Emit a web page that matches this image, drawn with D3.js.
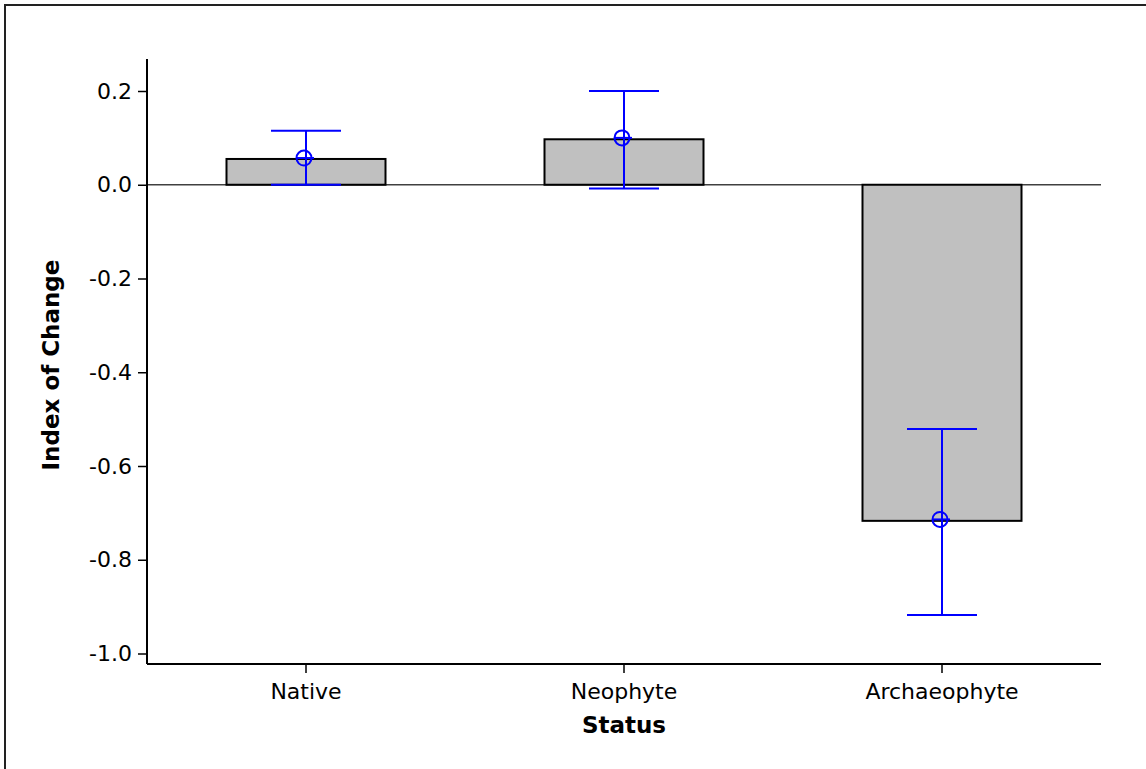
<!DOCTYPE html>
<html><head><meta charset="utf-8">
<script src="https://cdn.jsdelivr.net/npm/d3@7"></script>
<style>body{margin:0;background:#fff}svg{display:block}text{font-family:"DejaVu Sans",sans-serif}</style>
</head><body><svg id="c" width="1146" height="769"></svg>
<script>
const categories = ["Native", "Neophyte", "Archaeophyte"];
const barValues = [0.055, 0.097, -0.717];
const meanValues = [0.057, 0.100, -0.714];
const ciUpper = [0.115, 0.200, -0.521];
const ciLower = [0.000, -0.008, -0.918];
const yTicks = [0.2, 0.0, -0.2, -0.4, -0.6, -0.8, -1.0];

const svg = d3.select("#c");
const L = 147, R = 1101, T = 59, B = 664;
const x = d3.scaleBand().domain(categories).range([L, R]).paddingInner(0.5).paddingOuter(0.25);
const y = d3.scaleLinear().domain([-1.0, 0.2]).range([653.5, 91]);

svg.append("rect").attr("x", 5).attr("y", 5).attr("width", 1200).attr("height", 800)
  .attr("fill", "none").attr("stroke", "#222").attr("stroke-width", 2);

// zero reference line
svg.append("line").attr("x1", L).attr("x2", R).attr("y1", y(0)).attr("y2", y(0))
  .attr("stroke", "#404040").attr("stroke-width", 1.5);

// bars
svg.append("g").selectAll("rect").data(categories).join("rect")
  .attr("x", d => x(d)).attr("width", x.bandwidth())
  .attr("y", (d, i) => y(Math.max(0, barValues[i])))
  .attr("height", (d, i) => Math.abs(y(barValues[i]) - y(0)))
  .attr("fill", "#c0c0c0").attr("stroke", "#000").attr("stroke-width", 2);

// error bars
const cx = d => x(d) + x.bandwidth() / 2;
const eb = svg.append("g").attr("stroke", "#0000ff").attr("stroke-width", 2).attr("fill", "none");
categories.forEach((c, i) => {
  eb.append("line").attr("x1", cx(c)).attr("x2", cx(c)).attr("y1", y(ciUpper[i])).attr("y2", y(ciLower[i]));
  [ciUpper[i], ciLower[i]].forEach(v => {
    eb.append("line").attr("x1", cx(c) - 35).attr("x2", cx(c) + 35).attr("y1", y(v)).attr("y2", y(v));
  });
  eb.append("circle").attr("cx", cx(c) - 2).attr("cy", y(meanValues[i])).attr("r", 7.5);
  eb.append("line").attr("x1", cx(c) - 9.5).attr("x2", cx(c) + 8).attr("y1", y(meanValues[i])).attr("y2", y(meanValues[i]));
});

// axes
const yAxis = svg.append("g").attr("transform", `translate(${L},0)`)
  .call(d3.axisLeft(y).tickValues(yTicks).tickFormat(d3.format(".1f")).tickSize(9).tickSizeOuter(0));
yAxis.select(".domain").remove();
svg.append("line").attr("x1", L).attr("x2", L).attr("y1", T).attr("y2", B).attr("stroke", "#000").attr("stroke-width", 2);
yAxis.selectAll(".tick line").attr("stroke", "#000").attr("stroke-width", 1.5);
yAxis.selectAll(".tick text").attr("x", -15).attr("font-size", 22).attr("fill", "#000")
  .text(d => d3.format(".1f")(d).replace("−", "-"));

const xAxis = svg.append("g").attr("transform", `translate(0,${B})`)
  .call(d3.axisBottom(x).tickSize(9).tickSizeOuter(0));
xAxis.select(".domain").remove();
svg.append("line").attr("x1", L).attr("x2", R).attr("y1", B).attr("y2", B).attr("stroke", "#000").attr("stroke-width", 2);
xAxis.selectAll(".tick line").attr("stroke", "#000").attr("stroke-width", 1.5);
xAxis.selectAll(".tick text").attr("y", 19).attr("font-size", 22).attr("fill", "#000");

svg.append("text").attr("x", (L + R) / 2).attr("y", 733).attr("text-anchor", "middle")
  .attr("font-size", 23).attr("font-weight", "bold").text("Status");
svg.append("text").attr("transform", `translate(59,${365}) rotate(-90)`).attr("text-anchor", "middle")
  .attr("font-size", 23).attr("font-weight", "bold").text("Index of Change");
</script></body></html>
